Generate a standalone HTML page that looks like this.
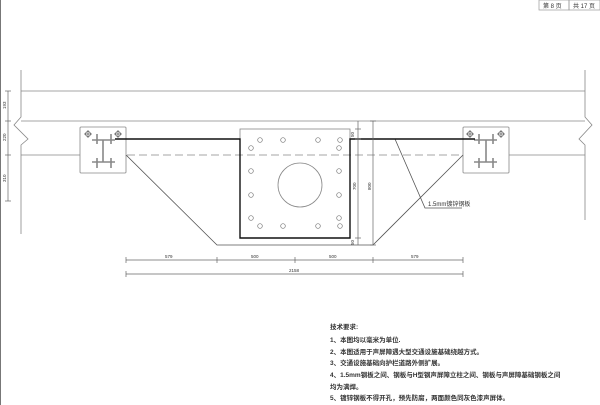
<!DOCTYPE html>
<html><head><meta charset="utf-8"><style>
body{margin:0;background:#fff;}
svg{display:block}
text{font-family:"Liberation Sans","Noto Sans CJK SC",sans-serif;fill:#333}
</style></head><body>
<svg width="600" height="405" viewBox="0 0 600 405" xmlns="http://www.w3.org/2000/svg">
<rect width="600" height="405" fill="#fff"/>
<line x1="0.5" y1="0" x2="0.5" y2="405" stroke="#777" stroke-width="1"/>
<rect x="539" y="0" width="30" height="10" fill="none" stroke="#999" stroke-width="0.7"/>
<rect x="569" y="0" width="31" height="10" fill="none" stroke="#999" stroke-width="0.7"/>
<text x="543" y="8" font-size="6">第 8 页</text>
<text x="573" y="8" font-size="6">共 17 页</text>
<g stroke="#888" stroke-width="0.8" fill="none">
<line x1="21" y1="91" x2="585" y2="91"/>
<line x1="21" y1="121" x2="585" y2="121"/>
<line x1="21" y1="155" x2="80" y2="155"/>
<line x1="509" y1="155" x2="585" y2="155"/>
<line x1="127" y1="155" x2="463" y2="155" stroke-dasharray="8,4"/>
<polyline points="21,70 21,117 14,125 28,139 21,145 21,234"/>
<polyline points="585,70 585,117 592,125 579,139 585,145 585,220"/>
<rect x="80" y="127" width="46" height="46" rx="1"/>
<rect x="463" y="127" width="46" height="46" rx="1"/>
<rect x="240" y="129" width="110" height="109"/>
<circle cx="300" cy="185" r="22"/>
<polyline points="126,155 217,245 373,245 463,155" stroke="#555"/>
<polyline points="395,139 425,208 462,208" stroke="#555"/>
</g>
<g stroke="#888" stroke-width="1.6" fill="none">
<line x1="92" y1="140" x2="115" y2="140"/><line x1="103" y1="140" x2="103" y2="162"/><line x1="92" y1="162" x2="115" y2="162"/>
<line x1="97" y1="134" x2="97" y2="144"/><line x1="111" y1="134" x2="111" y2="144"/>
<line x1="97" y1="158" x2="97" y2="168"/><line x1="111" y1="158" x2="111" y2="168"/>
<line x1="474" y1="140" x2="497" y2="140"/><line x1="486" y1="140" x2="486" y2="162"/><line x1="474" y1="162" x2="497" y2="162"/>
<line x1="479" y1="134" x2="479" y2="144"/><line x1="493" y1="134" x2="493" y2="144"/>
<line x1="479" y1="158" x2="479" y2="168"/><line x1="493" y1="158" x2="493" y2="168"/>
</g>
<g stroke="#555" stroke-width="0.7" fill="none">
<circle cx="88" cy="134" r="2.5"/><line x1="84" y1="134" x2="92" y2="134"/><line x1="88" y1="130" x2="88" y2="138"/>
<circle cx="118" cy="134" r="2.5"/><line x1="114" y1="134" x2="122" y2="134"/><line x1="118" y1="130" x2="118" y2="138"/>
<circle cx="470" cy="134" r="2.5"/><line x1="466" y1="134" x2="474" y2="134"/><line x1="470" y1="130" x2="470" y2="138"/>
<circle cx="501" cy="134" r="2.5"/><line x1="497" y1="134" x2="505" y2="134"/><line x1="501" y1="130" x2="501" y2="138"/>
</g>
<g stroke="#777" stroke-width="0.7" fill="none">
<circle cx="260" cy="140" r="2.3"/><circle cx="283" cy="140" r="2.3"/><circle cx="318" cy="140" r="2.3"/><circle cx="340" cy="140" r="2.3"/>
<circle cx="251" cy="148" r="2.3"/><circle cx="251" cy="171" r="2.3"/><circle cx="251" cy="195" r="2.3"/><circle cx="251" cy="218" r="2.3"/>
<circle cx="339" cy="148" r="2.3"/><circle cx="339" cy="171" r="2.3"/><circle cx="339" cy="195" r="2.3"/><circle cx="339" cy="218" r="2.3"/>
<circle cx="260" cy="226" r="2.3"/><circle cx="283" cy="226" r="2.3"/><circle cx="318" cy="226" r="2.3"/><circle cx="340" cy="226" r="2.3"/>
</g>
<polyline points="115,139 240,139 240,238 350,238 350,139 475,139" stroke="#111" stroke-width="1.4" fill="none"/>
<g stroke="#666" stroke-width="0.7" fill="none">
<line x1="8" y1="91" x2="8" y2="201"/>
<line x1="5" y1="91" x2="11" y2="91"/><line x1="5" y1="121" x2="11" y2="121"/><line x1="5" y1="155" x2="11" y2="155"/><line x1="5" y1="201" x2="11" y2="201"/>
<line x1="358" y1="121" x2="358" y2="245"/>
<line x1="355" y1="129" x2="361" y2="129"/><line x1="355" y1="139" x2="361" y2="139"/><line x1="355" y1="238" x2="361" y2="238"/>
<line x1="373" y1="121" x2="373" y2="245"/>
<line x1="370" y1="121" x2="376" y2="121"/><line x1="370" y1="245" x2="376" y2="245"/>
<line x1="126" y1="260" x2="463" y2="260"/>
<line x1="126" y1="257" x2="126" y2="263"/><line x1="217" y1="257" x2="217" y2="263"/><line x1="295" y1="257" x2="295" y2="263"/><line x1="373" y1="257" x2="373" y2="263"/><line x1="463" y1="257" x2="463" y2="263"/>
<line x1="126" y1="274" x2="463" y2="274"/>
<line x1="126" y1="271" x2="126" y2="277"/><line x1="463" y1="271" x2="463" y2="277"/>
</g>
<g font-size="4.5">
<text x="165" y="258">579</text><text x="251" y="258">500</text><text x="329" y="258">500</text><text x="411" y="258">579</text>
<text x="289" y="272">2158</text>
<text transform="translate(6,109) rotate(-90)">193</text>
<text transform="translate(6,141) rotate(-90)">220</text>
<text transform="translate(6,182) rotate(-90)">310</text>
<text transform="translate(356,190) rotate(-90)">700</text>
<text transform="translate(371,190) rotate(-90)">800</text>
<text transform="translate(354,137) rotate(-90)">50</text>
<text transform="translate(354,245) rotate(-90)">50</text>
</g>
<text x="428" y="206" font-size="6">1.5mm镀锌钢板</text>
<g font-size="6.5" style="fill:#111;font-weight:bold">
<text x="330" y="329">技术要求:</text>
<text x="330" y="342">1、本图均以毫米为单位.</text>
<text x="330" y="354">2、本图适用于声屏障遇大型交通设施基础绕越方式。</text>
<text x="330" y="365">3、交通设施基础向护栏道路外侧扩展。</text>
<text x="330" y="377">4、1.5mm钢板之间、钢板与H型钢声屏障立柱之间、钢板与声屏障基础钢板之间</text>
<text x="330" y="389">均为满焊。</text>
<text x="330" y="400">5、镀锌钢板不得开孔，预先防腐，两面颜色同灰色漆声屏体。</text>
</g>
</svg>
</body></html>
